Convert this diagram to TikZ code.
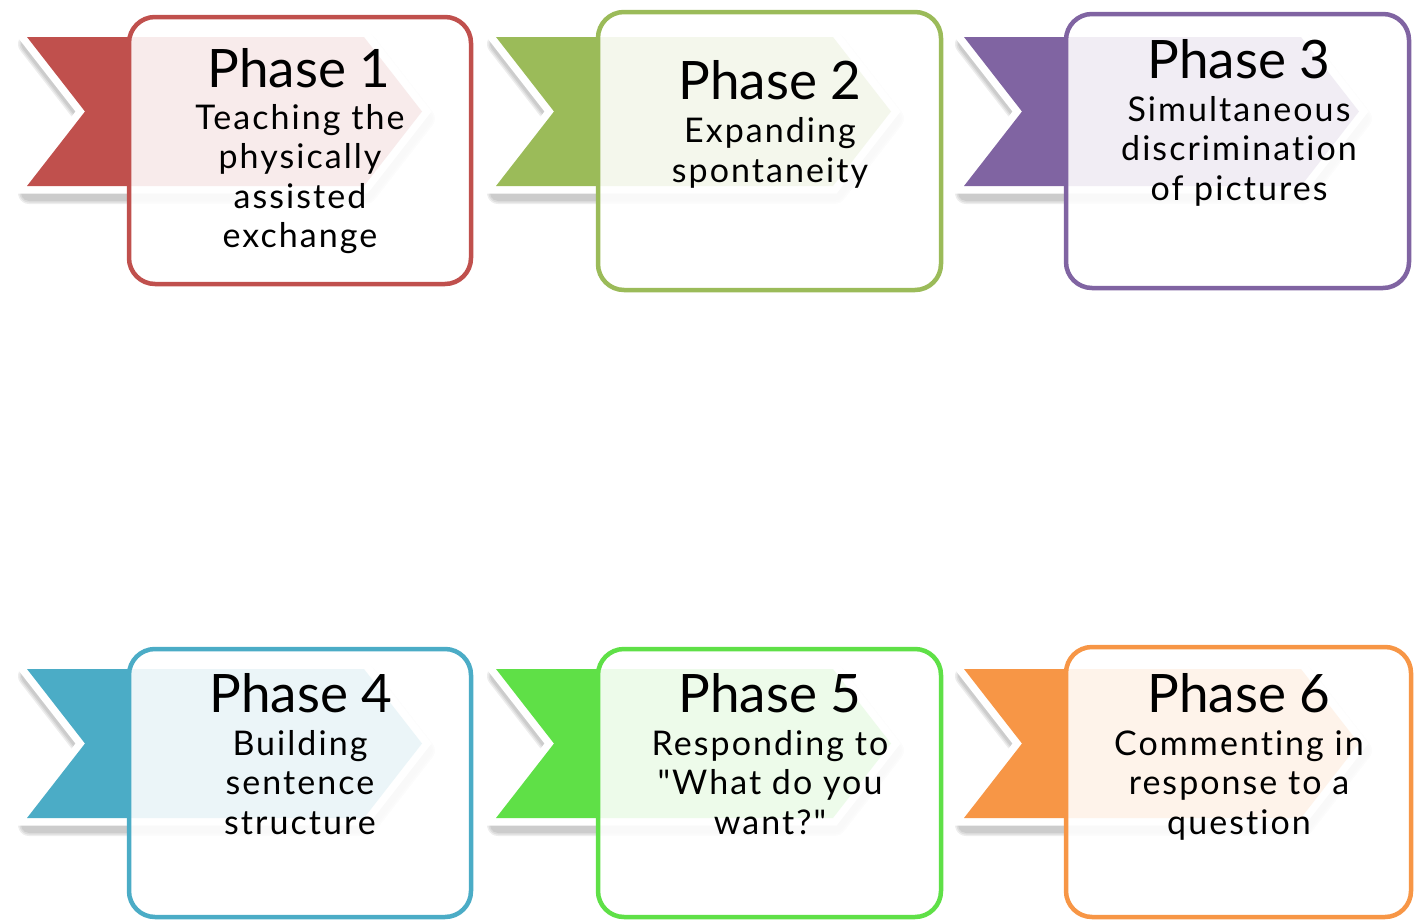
\documentclass[tikz,border=0pt]{standalone}
\usepackage{fontspec}
\setmainfont{Lato}
\newfontfamily\subfont[LetterSpace=6,Ligatures=CommonOff]{Lato}
\definecolor{c1}{HTML}{C0504D}
\definecolor{c2}{HTML}{9BBB59}
\definecolor{c3}{HTML}{8064A2}
\definecolor{c4}{HTML}{4BACC6}
\definecolor{c5}{HTML}{5FE047}
\definecolor{c6}{HTML}{F79646}
\tikzset{
  chevshadow/.style={draw=black, line width=#1, line join=round, opacity=0.07},
  chevback/.style={draw=white, line width=15pt, line join=miter, fill=white},
  phasebox/.style={draw=#1, line width=4.5pt, rounded corners=26pt, fill=white, fill opacity=0.89,
    inner sep=0pt},
  ttl/.style={anchor=base, inner sep=0pt, font=\fontsize{53}{60}\selectfont},
  sub/.style={anchor=base, inner sep=0pt, align=center, font=\subfont\fontsize{34}{39.5}\selectfont},
}
\begin{document}
\begin{tikzpicture}[x=1pt,y=-1pt]
\useasboundingbox (0,0) rectangle (1419,921);
\foreach \L/\T/\col in {27/37/c1, 496/37/c2, 964/37/c3, 27/669/c4, 496/669/c5, 964/669/c6}{
  \foreach \w in {22,19,16}{
    \path[chevshadow=\w pt, shift={(2,7)}] (\L,\T) -- ++(337,0) -- ++(58,74.5) -- ++(-58,74.5) -- ++(-337,0) -- ++(58,-74.5) -- cycle;
  }
  \path[chevback] (\L,\T) -- ++(337,0) -- ++(58,74.5) -- ++(-58,74.5) -- ++(-337,0) -- ++(58,-74.5) -- cycle;
  \fill[\col] (\L,\T) -- ++(337,0) -- ++(58,74.5) -- ++(-58,74.5) -- ++(-337,0) -- ++(58,-74.5) -- cycle;
}
\node[phasebox=c1, minimum width=342pt, minimum height=267pt] (r1) at (300,150.5) {};
\node[phasebox=c2, minimum width=343pt, minimum height=278pt] (r2) at (769.5,151) {};
\node[phasebox=c3, minimum width=343pt, minimum height=274pt] (r3) at (1237.5,151) {};
\node[phasebox=c4, minimum width=342pt, minimum height=268pt] (r4) at (300,783) {};
\node[phasebox=c5, minimum width=343pt, minimum height=268pt] (r5) at (769.5,783) {};
\node[phasebox=c6, minimum width=345pt, minimum height=270pt] (r6) at (1238.5,782) {};

\node[ttl] (t1) at (299,87) {Phase 1};
\node[sub] (s1) at (300,247.5) {Teaching the\\physically\\assisted\\exchange};
\node[ttl] (t2) at (770,99) {Phase 2};
\node[sub] (s2) at (770,182) {Expanding\\spontaneity};
\node[ttl] (t3) at (1239,78) {Phase 3};
\node[sub] (s3) at (1239,200) {Simultaneous\\discrimination\\of pictures};
\node[ttl] (t4) at (301,712) {Phase 4};
\node[sub] (s4) at (300,834) {Building\\sentence\\structure};
\node[ttl] (t5) at (770,712) {Phase 5};
\node[sub] (s5) at (770,834) {Responding to\\\char"22 What do you\\want?\char"22};
\node[ttl] (t6) at (1239,712) {Phase 6};
\node[sub] (s6) at (1239,834) {Commenting in\\response to a\\question};
\end{tikzpicture}
\end{document}
